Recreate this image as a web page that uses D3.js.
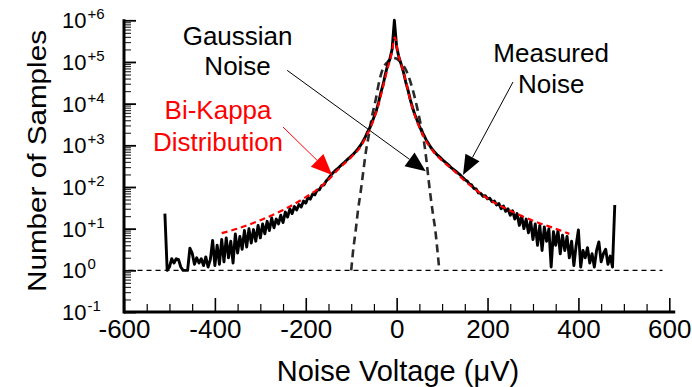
<!DOCTYPE html>
<html>
<head>
<meta charset="utf-8">
<script src="https://cdn.jsdelivr.net/npm/d3@7"></script>
<style>
  html, body { margin: 0; padding: 0; background: #fff; }
  svg { display: block; font-family: "Liberation Sans", Arial, Helvetica, sans-serif; }
</style>
</head>
<body>
<svg id="chart" width="692" height="387"></svg>
<script>
// Histogram of measured noise: bins of 5 µV starting at -510 µV
const binStart = -510;
const binWidth = 5;
const measuredCounts = [
  23, 1, 1.2, 1.9, 1.5, 1.9, 1.8, 1.2, 1, 1,
  1, 3.4, 2.6, 1.4, 2, 1.5, 1.9, 1.3, 2.1, 1.2,
  1.8, 5.2, 1.3, 4, 1.4, 5.5, 1.6, 6, 2, 5,
  1.5, 7.5, 2.6, 6.5, 3.2, 9, 3.6, 10, 4.5, 9.5,
  5, 12, 6, 13, 7.5, 15, 9, 18, 10.5, 17,
  13, 21, 14, 25, 19, 30, 23, 34, 28, 38,
  33, 46, 41, 56, 51, 68, 65, 84, 86, 108,
  112, 140, 160, 190, 220, 250, 275, 310, 350, 390,
  440, 490, 550, 620, 710, 830, 980, 1200, 1500, 2000,
  2500, 3400, 4700, 6600, 10500, 18000, 28000, 50000, 83000, 117000,
  200000, 1000000, 230000, 130000, 88000, 57000, 33000, 21000, 12500, 8000,
  5500, 4000, 2900, 2200, 1750, 1350, 1100, 900, 770, 660,
  580, 520, 460, 410, 370, 330, 290, 265, 240, 215,
  195, 170, 150, 140, 118, 112, 92, 90, 72, 70,
  60, 62, 52, 54, 44, 46, 37, 40, 30, 35,
  26, 30, 21, 27, 17, 23, 12, 20, 10, 17,
  8, 15, 5.5, 13, 4, 12, 3, 11, 5, 10,
  1.2, 8.5, 4, 9, 2.5, 7, 3, 6.5, 2, 5,
  1.3, 4, 9.3, 1.2, 3, 2, 3.5, 1.5, 2.5, 1.2,
  3, 4.8, 1.6, 2.5, 3.2, 1.4, 2.2, 1.2, 37
];

// Fitted Gaussian noise
const gaussVolts  = [-100, -96, -90, -85, -79, -73, -67, -62, -55, -46, -38, -30, -20, -10, 0, 10, 20, 31, 42, 52, 60, 66, 70, 75, 80, 85, 90, 94];
const gaussCounts = [1, 2.8, 9.3, 28, 79, 257, 794, 1580, 4470, 12600, 35500, 70000, 100000, 126000, 120000, 95000, 66000, 31600, 11200, 3550, 1260, 398, 158, 56, 22, 9.3, 2.8, 1];

// Fitted bi-kappa distribution
const kappaVolts  = [-385, -350, -300, -250, -200, -170, -150, -125, -100, -80, -65, -50, -40, -30, -20, -11, -4, 3, 12, 20, 30, 40, 50, 65, 80, 100, 125, 150, 175, 200, 250, 300, 350, 380];
const kappaCounts = [7.8, 10, 16, 28, 57, 95, 150, 290, 520, 900, 1800, 4300, 9500, 25000, 70000, 160000, 390000, 160000, 75000, 35000, 12000, 5200, 2700, 1250, 720, 430, 250, 140, 84, 53, 27, 15.5, 10, 7.5];

// Axis ticks
const xTickValues = [-600, -400, -200, 0, 200, 400, 600];
const xTickLabels = ["-600", "-400", "-200", "0", "200", "400", "600"];
const yTickValues = [1e6, 1e5, 1e4, 1e3, 1e2, 1e1, 1e0, 1e-1];
const yTickExponents = ["+6", "+5", "+4", "+3", "+2", "+1", "0", "-1"];

const svg = d3.select("#chart");

const x = d3.scaleLinear().domain([-600, 600]).range([124, 669.3]);
const y = d3.scaleLog().domain([0.1, 1e6]).range([312, 20.3]);

// Reference level at one sample
svg.append("line")
  .attr("x1", x(-590)).attr("x2", x(585))
  .attr("y1", y(1)).attr("y2", y(1))
  .attr("stroke", "#000").attr("stroke-width", 1.1)
  .attr("stroke-dasharray", "5,4");

// Gaussian curve
const gaussData = gaussVolts.map((v, i) => [v, gaussCounts[i]]);
svg.append("path")
  .datum(gaussData)
  .attr("fill", "none")
  .attr("stroke", "#2a2a2a")
  .attr("stroke-width", 2.6)
  .attr("stroke-dasharray", "8,5")
  .attr("d", d3.line().x(d => x(d[0])).y(d => y(d[1])).curve(d3.curveMonotoneX));

// Measured histogram
const measuredData = measuredCounts.map((c, i) => [binStart + i * binWidth, c]);
svg.append("path")
  .datum(measuredData)
  .attr("fill", "none")
  .attr("stroke", "#000")
  .attr("stroke-width", 2.9)
  .attr("stroke-linejoin", "round")
  .attr("d", d3.line().x(d => x(d[0])).y(d => y(d[1])));

// Bi-kappa fit
const kappaData = kappaVolts.map((v, i) => [v, kappaCounts[i]]);
svg.append("path")
  .datum(kappaData)
  .attr("fill", "none")
  .attr("stroke", "#ff0000")
  .attr("stroke-width", 2.2)
  .attr("stroke-dasharray", "6,4")
  .attr("d", d3.line().x(d => x(d[0])).y(d => y(d[1])).curve(d3.curveMonotoneX));

// Axes
const xMinor = d3.range(-550, 600, 50).filter(v => v % 200 !== 0);
const yMinor = [];
for (let e = -1; e < 6; e++) for (let k = 2; k <= 9; k++) yMinor.push(k * Math.pow(10, e));

const axisG = svg.append("g");
axisG.append("g")
  .attr("transform", `translate(0,${y(0.1)})`)
  .call(d3.axisBottom(x).tickValues(xMinor).tickSize(-8).tickFormat(""))
  .call(g => g.select(".domain").remove())
  .call(g => g.selectAll("line").attr("stroke-width", 1.2));
axisG.append("g")
  .attr("transform", `translate(0,${y(0.1)})`)
  .call(d3.axisBottom(x).tickValues(xTickValues).tickSize(-14).tickPadding(8)
    .tickFormat((d, i) => xTickLabels[i]))
  .call(g => g.select(".domain").remove())
  .call(g => g.selectAll("line").attr("stroke-width", 1.6))
  .call(g => g.selectAll("text").attr("font-size", 26).attr("fill", "#000")
    .attr("font-family", "Liberation Sans, Arial, sans-serif"));

axisG.append("g")
  .attr("transform", `translate(${x(-600)},0)`)
  .call(d3.axisLeft(y).tickValues(yMinor).tickSize(-7).tickFormat(""))
  .call(g => g.select(".domain").remove())
  .call(g => g.selectAll("line").attr("stroke-width", 1.2).attr("stroke", "#333"));
axisG.append("g")
  .attr("transform", `translate(${x(-600)},0)`)
  .call(d3.axisLeft(y).tickValues(yTickValues).tickSize(-12).tickFormat(""))
  .call(g => g.select(".domain").remove())
  .call(g => g.selectAll("line").attr("stroke-width", 1.8));

// Axis lines
axisG.append("line")
  .attr("x1", x(-600)).attr("x2", x(613))
  .attr("y1", y(0.1)).attr("y2", y(0.1))
  .attr("stroke", "#000").attr("stroke-width", 3);
axisG.append("line")
  .attr("x1", x(-600)).attr("x2", x(-600))
  .attr("y1", y(0.1) + 1.5).attr("y2", y(1e6) - 1)
  .attr("stroke", "#000").attr("stroke-width", 3);

// Y tick labels with superscript exponents
const yLabels = svg.append("g").attr("font-size", 22).attr("fill", "#000");
yTickValues.forEach((v, i) => {
  const t = yLabels.append("text")
    .attr("x", 62)
    .attr("y", y(v) + 8);
  t.append("tspan").text("10");
  t.append("tspan").attr("font-size", 15).attr("dy", -9).attr("dx", 1).text(yTickExponents[i]);
});

// Axis titles
svg.append("text")
  .attr("x", 398).attr("y", 381)
  .attr("text-anchor", "middle")
  .attr("font-size", 29)
  .text("Noise Voltage (\u03bcV)");

svg.append("text")
  .attr("transform", `translate(46,${161}) rotate(-90)`)
  .attr("text-anchor", "middle")
  .attr("font-size", 26)
  .attr("textLength", 262)
  .attr("lengthAdjust", "spacingAndGlyphs")
  .text("Number of Samples");

// Annotations: label lines and arrows pointing to the curves
const annotations = [
  { lines: ["Gaussian", "Noise"], color: "#000", at: [-350, 5.40], lineStep: 0.72,
    from: [-241, 63000], to: [64, 240], headLen: 20, headHalf: 8.5, width: 1 },
  { lines: ["Bi-Kappa", "Distribution"], color: "#ff0000", at: [-393, 3.62], lineStep: 0.76,
    from: [-250, 2750], to: [-142, 193], headLen: 21, headHalf: 9, width: 1 },
  { lines: ["Measured", "Noise"], color: "#000", at: [340, 5.0], lineStep: 0.74,
    from: [256, 33000], to: [146, 193], headLen: 20, headHalf: 8, width: 1 }
];

annotations.forEach(a => {
  const g = svg.append("g");
  a.lines.forEach((s, i) => {
    g.append("text")
      .attr("x", x(a.at[0]))
      .attr("y", y(Math.pow(10, a.at[1] - i * a.lineStep)))
      .attr("text-anchor", "middle")
      .attr("font-size", 26)
      .attr("fill", a.color)
      .text(s);
  });
  const x1 = x(a.from[0]), y1 = y(a.from[1]);
  const x2 = x(a.to[0]), y2 = y(a.to[1]);
  const ang = Math.atan2(y2 - y1, x2 - x1);
  const bx = x2 - a.headLen * Math.cos(ang), by = y2 - a.headLen * Math.sin(ang);
  g.append("line")
    .attr("x1", x1).attr("y1", y1).attr("x2", bx).attr("y2", by)
    .attr("stroke", a.color).attr("stroke-width", a.width);
  const px = -Math.sin(ang) * a.headHalf, py = Math.cos(ang) * a.headHalf;
  g.append("path")
    .attr("d", `M${x2},${y2}L${bx + px},${by + py}L${bx - px},${by - py}Z`)
    .attr("fill", a.color);
});
</script>
</body>
</html>
